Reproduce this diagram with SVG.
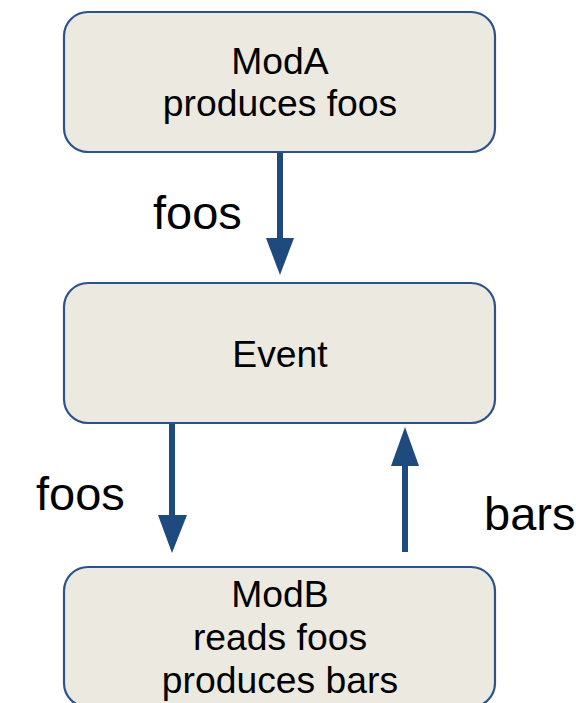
<svg xmlns="http://www.w3.org/2000/svg" width="576" height="703" viewBox="0 0 576 703">
  <style>
    .box { fill: #ECE9E0; stroke: #2B528A; stroke-width: 2.2; }
    .node-text { font-family: "Liberation Sans", Arial, sans-serif; font-size: 37.3px; fill: #000; text-anchor: middle; }
    .edge-label { font-family: "Liberation Sans", Arial, sans-serif; font-size: 47px; fill: #000; }
    .shaft { stroke: #1F4A7E; stroke-width: 6; fill: none; }
    .head { fill: #1F4A7E; }
  </style>
  <rect width="576" height="703" fill="#FFFFFF"/>

  <g id="connectors">
    <!-- ModA -> Event -->
    <line class="shaft" x1="280" y1="145" x2="280" y2="240"/>
    <polygon class="head" points="266,238 294,238 280,275"/>
    <!-- Event -> ModB -->
    <line class="shaft" x1="172" y1="423" x2="172" y2="518"/>
    <polygon class="head" points="158,515 187,515 172,553"/>
    <!-- ModB -> Event -->
    <line class="shaft" x1="405" y1="552" x2="405" y2="463"/>
    <polygon class="head" points="391,466 419,466 405,427"/>
    <text class="edge-label" x="153" y="229">foos</text>
    <text class="edge-label" x="36" y="510">foos</text>
    <text class="edge-label" x="484" y="530">bars</text>
  </g>

  <g id="modA">
    <rect class="box" x="64" y="12" width="431" height="140" rx="24" ry="24"/>
    <text class="node-text" x="280" y="74">ModA</text>
    <text class="node-text" x="280" y="116">produces foos</text>
  </g>

  <g id="event">
    <rect class="box" x="64" y="283" width="431" height="140" rx="24" ry="24"/>
    <text class="node-text" x="280" y="367">Event</text>
  </g>

  <g id="modB">
    <rect class="box" x="64" y="567" width="431" height="140" rx="24" ry="24"/>
    <text class="node-text" x="280" y="607">ModB</text>
    <text class="node-text" x="280" y="650">reads foos</text>
    <text class="node-text" x="280" y="693">produces bars</text>
  </g>
</svg>
